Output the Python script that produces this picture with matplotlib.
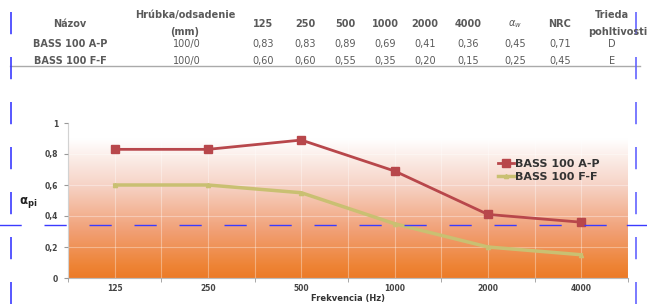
import matplotlib.pyplot as plt
import matplotlib.colors as mcolors
import numpy as np

plt.rcParams['font.family'] = ['DejaVu Sans']
plt.rcParams['lines.scale_dashes'] = False

# data
freqs = ['125', '250', '500', '1000', '2000', '4000']
names = ['BASS 100 A-P', 'BASS 100 F-F']
thick = ['100/0', '100/0']
ap = [0.83, 0.83, 0.89, 0.69, 0.41, 0.36]
ff = [0.60, 0.60, 0.55, 0.35, 0.20, 0.15]
alpha_w = [0.45, 0.25]
nrc = [0.71, 0.45]
trieda = ['D', 'E']

W, H = 647, 304
fig = plt.figure(figsize=(W / 100, H / 100), dpi=100)

def px(x, y):
    return x / W, 1 - y / H

# ---- table at the top
hdr = dict(fontsize=7, fontweight='bold', color='#5a5a5a', ha='center', va='center')
val = dict(fontsize=7, color='#5a5a5a', ha='center', va='center')
fig.text(*px(70, 24), 'Názov', **hdr)
fig.text(*px(185, 15), 'Hrúbka/odsadenie', **hdr)
fig.text(*px(185, 32), '(mm)', **hdr)
colx = [263, 305, 345, 385, 425, 468, 515, 560, 612]
for x, f in zip(colx[:6], freqs):
    fig.text(*px(x, 24), f, **hdr)
fig.text(*px(colx[6], 24), r'$\alpha_w$', **hdr)
fig.text(*px(colx[7], 24), 'NRC', **hdr)
fig.text(*px(colx[8], 15), 'Trieda', **hdr)
fig.text(*px(colx[8] + 6, 32), 'pohltivosti', **hdr)

rows_y = [44, 61]
for i, (y, vals) in enumerate(zip(rows_y, [ap, ff])):
    fig.text(*px(70, y), names[i], **hdr)
    fig.text(*px(187, y), thick[i], **val)
    for x, v in zip(colx[:6], vals):
        fig.text(*px(x, y), f'{v:.2f}'.replace('.', ','), **val)
    fig.text(*px(colx[6], y), f'{alpha_w[i]:.2f}'.replace('.', ','), **val)
    fig.text(*px(colx[7], y), f'{nrc[i]:.2f}'.replace('.', ','), **val)
    fig.text(*px(colx[8], y), trieda[i], **val)

fig.add_artist(plt.Line2D([10 / W, 640 / W], [1 - 65.5 / H] * 2, color='#aaaaaa', lw=1))

# ---- chart
ax = fig.add_axes([68 / W, 26 / H, 560 / W, 155 / H])
x = np.arange(len(freqs))

grad = mcolors.LinearSegmentedColormap.from_list(
    'g', [(0, '#ec7b28'), (0.08, '#ee8436'), (0.3, '#f19f74'), (0.6, '#f6d3c6'), (0.9, '#ffffff'), (1, '#ffffff')])
ax.imshow(np.linspace(0, 1, 256).reshape(-1, 1), cmap=grad, aspect='auto',
          extent=[-0.5, 5.5, 0, 1], origin='lower', zorder=0)

ax.plot(x, ap, color='#b8474b', lw=2, marker='s', ms=6, label=names[0], zorder=3)
ax.plot(x, ff, color='#c9c072', lw=2.5, marker='^', ms=3, label=names[1], zorder=3)

ax.set_xlim(-0.5, 5.5)
ax.set_ylim(0, 1)
ax.set_xticks(x)
ax.set_xticklabels(freqs)
ax.set_xticks(np.arange(-0.5, 6, 1), minor=True)
ax.set_yticks(np.arange(0, 1.01, 0.2))
ax.set_yticklabels(['0', '0,2', '0,4', '0,6', '0,8', '1'])
ax.tick_params(axis='both', labelsize=5.5, colors='#444444', length=0, pad=4)
ax.tick_params(axis='x', which='minor', length=3, color='#999999')
ax.tick_params(axis='y', length=3, color='#999999', pad=4)
for lab in ax.get_xticklabels() + ax.get_yticklabels():
    lab.set_fontweight('bold')
ax.grid(True, which='both', color='white', alpha=0.35, lw=0.8)
ax.set_axisbelow(False)
for s in ['top', 'right']:
    ax.spines[s].set_visible(False)
ax.spines['left'].set_color('#bbbbbb')
ax.spines['bottom'].set_color('#bbbbbb')

fig.text(*px(348, 298), 'Frekvencia (Hz)', fontsize=6, fontweight='bold', color='#333333',
         ha='center', va='center')
fig.text(*px(28, 202), r'$\mathbf{\alpha_{pi}}$', fontsize=8.5, color='#222222',
         ha='center', va='center')

leg = ax.legend(loc='upper left', bbox_to_anchor=(0.75, 0.83), frameon=False,
                handlelength=1.4, handletextpad=0.1, labelspacing=0.2,
                prop={'weight': 'bold', 'size': 8})
for t in leg.get_texts():
    t.set_color('#333333')

# ---- blue dashed overlay lines
blue = '#3b3bff'
fig.add_artist(plt.Line2D([11 / W, 11 / W], [1 - 12 / H, 0], color=blue, lw=1.2,
                          dashes=(16, 16.4)))
fig.add_artist(plt.Line2D([636 / W, 636 / W], [1 - 12 / H, 0], color='#6464ff', lw=1.2,
                          dashes=(16, 16.4)))
fig.add_artist(plt.Line2D([-8 / W, 620 / W], [1 - 225 / H] * 2, color=blue, lw=1,
                          dashes=(16, 16.4)))
fig.add_artist(plt.Line2D([627 / W, 1], [1 - 225 / H] * 2, color=blue, lw=1))

fig.savefig('out.png', dpi=100)
